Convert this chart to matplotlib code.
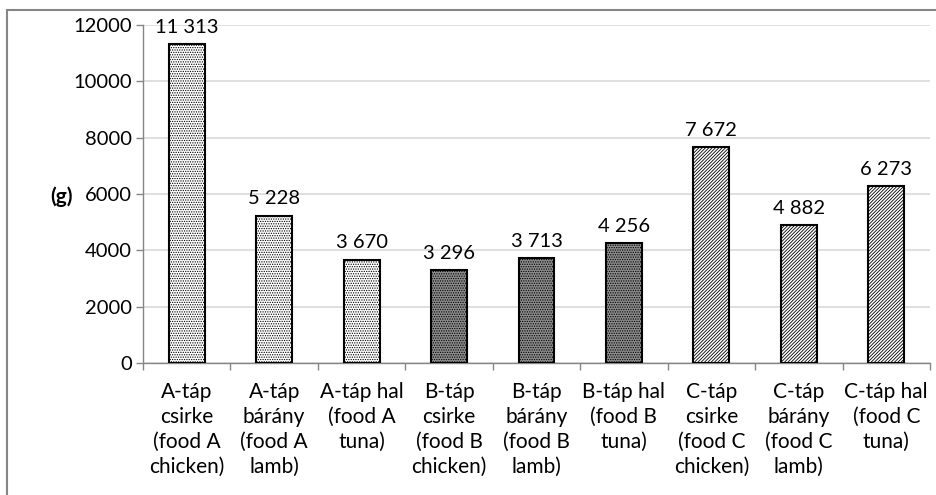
import numpy as np
import matplotlib.pyplot as plt
from matplotlib.patches import Rectangle

plt.rcParams["font.family"] = ["Lato", "DejaVu Sans"]
plt.rcParams["hatch.linewidth"] = 0.6

labels = ["A-táp\ncsirke\n(food A\nchicken)", "A-táp\nbárány\n(food A\nlamb)", "A-táp hal\n(food A\ntuna)",
          "B-táp\ncsirke\n(food B\nchicken)", "B-táp\nbárány\n(food B\nlamb)", "B-táp hal\n(food B\ntuna)",
          "C-táp\ncsirke\n(food C\nchicken)", "C-táp\nbárány\n(food C\nlamb)", "C-táp hal\n(food C\ntuna)"]
values = [11313, 5228, 3670, 3296, 3713, 4256, 7672, 4882, 6273]
food_group = ["A", "A", "A", "B", "B", "B", "C", "C", "C"]

# fill style per food type
styles = {"A": dict(facecolor="white", hatch="......."),
          "B": dict(facecolor="#8c8c8c", hatch="......."),
          "C": dict(facecolor="white", hatch="//////////")}

fig = plt.figure(figsize=(9.37, 4.95), dpi=100)
ax = fig.add_axes([0.1526, 0.2667, 0.8399, 0.6828])

# grey frame round the chart
fig.patches.append(Rectangle((7/937, -0.05), 1.0, 1 - 10/495 + 0.05, transform=fig.transFigure,
                             fill=False, edgecolor="#868686", linewidth=1.5))

x = np.arange(len(values))
for xi, v, g in zip(x, values, food_group):
    ax.bar(xi, v, width=0.41, edgecolor="black", linewidth=1.5, zorder=3, **styles[g])
    ax.annotate("{:,}".format(v).replace(",", " "), xy=(xi, v), xytext=(0, 6),
                textcoords="offset points", ha="center", va="bottom", fontsize=14.5)

ax.set_xlim(-0.5, len(values) - 0.5)
ax.set_ylim(0, 12000)
ax.set_yticks(np.arange(0, 12001, 2000))
ax.yaxis.grid(True, color="#d9d9d9", linewidth=1.2, zorder=0)
ax.set_axisbelow(True)

ax.set_xticks(x)
ax.set_xticklabels(labels, fontsize=15, linespacing=1.3, va="top")
ax.set_xticks(np.arange(-0.5, len(values), 1), minor=True)
ax.tick_params(axis="x", which="major", length=0, pad=14)
ax.tick_params(axis="x", which="minor", length=5, color="#868686", width=1)
ax.tick_params(axis="y", length=5, color="#868686", width=1, labelsize=14.5, pad=3)

for side in ["top", "right"]:
    ax.spines[side].set_visible(False)
for side in ["left", "bottom"]:
    ax.spines[side].set_color("#868686")
    ax.spines[side].set_linewidth(1)

fig.text(62/937, 1 - 197/495, "(g)", fontsize=15, fontweight="bold", ha="center", va="center")

fig.savefig("out.png", dpi=100)
